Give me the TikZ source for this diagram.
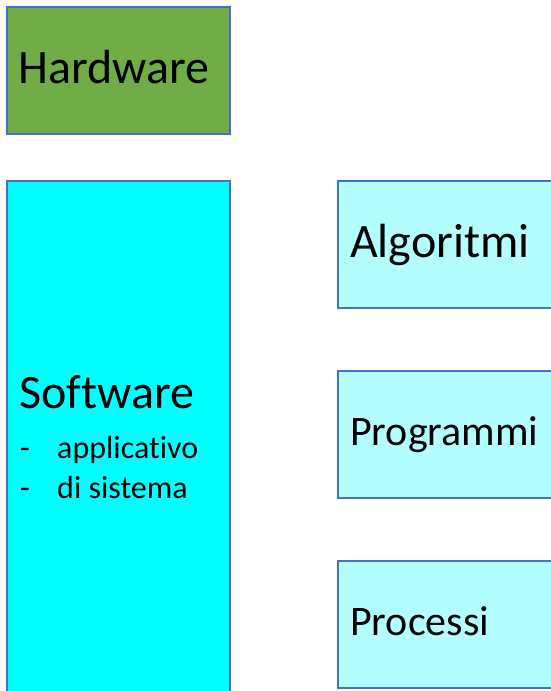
\documentclass[tikz,border=0pt]{standalone}
\usepackage{fontspec}
% plain letters, no "ti"/"fi" ligatures
\setmainfont{Carlito}[Ligatures=NoCommon]
\definecolor{edgeblue}{HTML}{4472C4}
\definecolor{hwgreen}{HTML}{70AD47}
\definecolor{swcyan}{HTML}{00FFFF}
\definecolor{palecyan}{HTML}{B3FFFF}
\tikzset{
  box/.style={draw=edgeblue, line width=2.4pt, anchor=north west, inner sep=0pt},
  hwbox/.style={box, fill=hwgreen},
  swbox/.style={box, fill=swcyan},
  topicbox/.style={box, fill=palecyan, minimum width=223pt, minimum height=127pt},
  label/.style={anchor=base west, inner sep=0pt, text=black},
  bigtext/.style={label, font=\fontsize{48}{57}\selectfont},
  midtext/.style={label, font=\fontsize{42}{50}\selectfont},
  smalltext/.style={label, font=\fontsize{32}{39}\selectfont}
}
\begin{document}
\begin{tikzpicture}[x=1pt,y=-1pt]
  \clip (0,0) rectangle (551,691);
  \fill[white] (0,0) rectangle (551,691);

  % left column
  \node[hwbox, minimum width=223pt, minimum height=127pt] (hw) at (6,6) {};
  \node[bigtext] (hwtext) at (18,83) {Hardware};

  \node[swbox, minimum width=223pt, minimum height=530pt] (sw) at (6,180) {};
  \node[bigtext] (swtext) at (19,408) {Software};
  \node[smalltext] (dashA) at (20,458) {-};
  \node[smalltext] (swapp) at (57,458) {applicativo};
  \node[smalltext] (dashB) at (20,498) {-};
  \node[smalltext] (swsys) at (57,498) {di sistema};

  % right column
  \node[topicbox] (alg) at (337,180) {};
  \node[bigtext] (algtext) at (350,257) {Algoritmi};

  \node[topicbox] (prog) at (337,370) {};
  \node[midtext] (progtext) at (350,445) {Programmi};

  \node[topicbox] (proc) at (337,560) {};
  \node[midtext] (proctext) at (350,635) {Processi};
\end{tikzpicture}
\end{document}
